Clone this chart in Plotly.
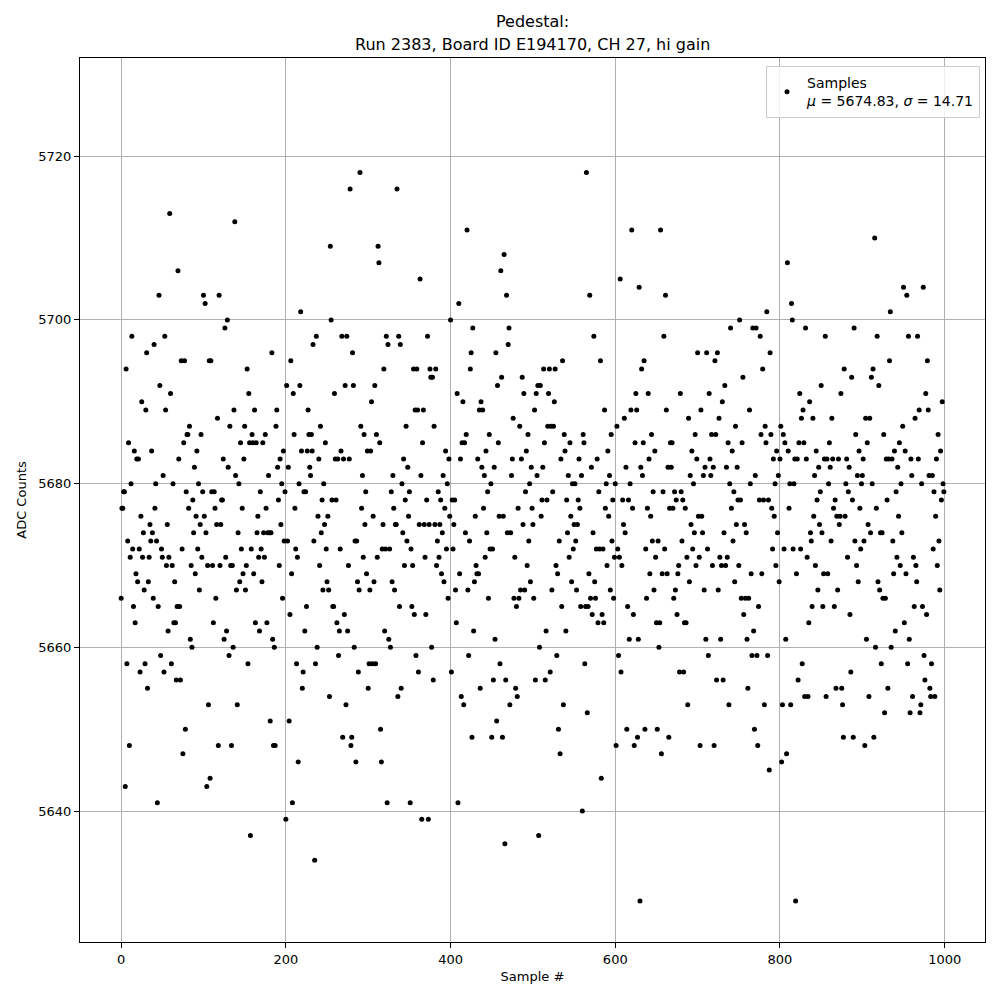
import plotly.graph_objects as go

# ADC samples (blocks of 50)
block_00 = [5666,5677,5677,5679,5679,5643,5694,5658,5673,5685,5648,5671,5680,5698,5672,5665,5684,5663,5669,5683,5668,5683,5672,5657,5676,5690,5671,5674,5667,5658,5689,5696,5655,5668,5671,5675,5673,5684,5674,5666,5697,5677,5680,5673,5641,5665,5703,5692,5659,5672]
block_01 = [5671,5681,5657,5698,5689,5670,5675,5662,5671,5713,5691,5658,5670,5680,5663,5668,5663,5656,5665,5706,5683,5665,5656,5695,5672,5647,5685,5695,5650,5679,5686,5686,5677,5687,5661,5670,5660,5678,5674,5682,5669,5676,5684,5672,5680,5667,5675,5686,5671,5679]
block_02 = [5703,5676,5702,5674,5643,5670,5653,5695,5644,5695,5679,5670,5663,5679,5677,5666,5675,5688,5648,5703,5670,5675,5678,5678,5683,5661,5699,5671,5662,5700,5682,5659,5687,5670,5648,5670,5660,5689,5712,5681,5667,5653,5674,5680,5668,5685,5672,5677,5669,5683]
block_03 = [5687,5667,5670,5694,5658,5691,5685,5637,5672,5686,5685,5669,5689,5663,5685,5674,5676,5671,5662,5679,5672,5668,5685,5674,5671,5686,5677,5663,5674,5681,5674,5651,5674,5696,5661,5648,5660,5648,5687,5689,5682,5678,5670,5683,5675,5680,5666,5684,5673,5679]
block_04 = [5639,5692,5673,5682,5651,5664,5695,5669,5641,5691,5686,5677,5672,5658,5671,5646,5680,5692,5701,5684,5655,5657,5679,5662,5679,5665,5684,5689,5686,5682,5681,5686,5684,5697,5673,5634,5658,5698,5660,5676,5683,5670,5687,5674,5678,5667,5680,5675,5685,5672]
block_05 = [5668,5676,5667,5654,5709,5700,5678,5665,5665,5691,5683,5678,5663,5683,5659,5662,5672,5684,5698,5649,5683,5664,5692,5653,5698,5662,5670,5683,5716,5648,5649,5696,5692,5660,5673,5646,5673,5668,5657,5667,5718,5687,5677,5681,5671,5686,5675,5679,5669,5684]
block_06 = [5655,5658,5667,5684,5690,5658,5676,5668,5692,5658,5686,5671,5709,5707,5685,5650,5646,5672,5675,5694,5662,5672,5698,5641,5697,5661,5672,5660,5679,5668,5681,5677,5667,5675,5675,5716,5654,5698,5665,5697,5655,5680,5674,5683,5670,5678,5687,5673,5682,5676]
block_07 = [5679,5641,5672,5665,5670,5694,5664,5689,5659,5694,5689,5657,5675,5705,5681,5639,5685,5689,5675,5671,5664,5678,5698,5639,5675,5694,5693,5660,5693,5656,5687,5675,5694,5670,5673,5679,5671,5675,5678,5669,5674,5681,5668,5677,5684,5672,5680,5666,5683,5676]
block_08 = [5700,5657,5678,5672,5675,5678,5667,5663,5691,5641,5702,5669,5683,5654,5685,5690,5653,5685,5674,5686,5711,5667,5659,5673,5694,5696,5649,5699,5662,5668,5676,5670,5669,5683,5669,5689,5655,5690,5682,5689,5677,5681,5671,5684,5674,5679,5666,5686,5672,5680]
block_09 = [5649,5672,5656,5682,5661,5696,5651,5692,5685,5676,5658,5706,5693,5649,5676,5708,5636,5656,5703,5674,5697,5699,5653,5674,5681,5683,5688,5666,5671,5655,5665,5654,5677,5666,5687,5667,5683,5693,5675,5691,5667,5679,5684,5670,5686,5673,5680,5668,5682,5677]
block_10 = [5675,5666,5689,5656,5691,5681,5692,5637,5660,5692,5676,5678,5682,5694,5685,5656,5662,5678,5687,5691,5694,5657,5687,5667,5679,5687,5690,5694,5670,5659,5669,5650,5673,5647,5683,5665,5695,5653,5686,5684,5662,5678,5674,5681,5671,5685,5676,5668,5680,5672]
block_11 = [5675,5680,5673,5667,5675,5678,5683,5677,5665,5681,5640,5686,5685,5658,5665,5718,5652,5665,5669,5703,5666,5682,5664,5674,5698,5668,5666,5672,5683,5663,5679,5672,5695,5644,5664,5672,5663,5689,5677,5680,5670,5684,5676,5681,5667,5686,5673,5678,5666,5671]
block_12 = [5680,5648,5687,5672,5659,5671,5705,5657,5670,5678,5675,5688,5674,5682,5650,5665,5678,5661,5680,5689,5711,5677,5664,5648,5685,5691,5689,5649,5661,5704,5629,5682,5694,5681,5685,5695,5650,5672,5666,5677,5691,5683,5669,5676,5686,5673,5679,5667,5684,5671]
block_13 = [5663,5650,5673,5660,5663,5711,5647,5669,5679,5698,5672,5703,5689,5669,5682,5649,5677,5685,5682,5685,5677,5666,5679,5667,5678,5664,5669,5670,5657,5691,5679,5673,5678,5657,5663,5677,5663,5671,5653,5688,5668,5681,5675,5684,5672,5680,5674,5686,5670,5683]
block_14 = [5696,5676,5671,5648,5689,5676,5674,5681,5667,5682,5661,5696,5672,5659,5691,5683,5681,5686,5670,5682,5648,5695,5686,5656,5696,5667,5688,5671,5661,5670,5690,5656,5674,5692,5670,5682,5671,5685,5653,5680,5699,5677,5684,5673,5679,5668,5687,5675,5682,5678]
block_15 = [5670,5700,5678,5666,5685,5693,5664,5675,5666,5674,5661,5655,5666,5689,5680,5669,5659,5699,5662,5650,5681,5699,5659,5648,5665,5678,5698,5686,5669,5694,5678,5653,5687,5685,5701,5659,5678,5645,5696,5686,5677,5672,5683,5676,5680,5670,5684,5674,5681,5668]
block_16 = [5683,5687,5646,5653,5686,5672,5685,5661,5647,5707,5684,5677,5680,5653,5702,5700,5672,5680,5683,5629,5669,5683,5656,5685,5691,5672,5688,5658,5689,5685,5654,5699,5683,5671,5654,5663,5690,5674,5673,5665,5688,5676,5681,5670,5684,5678,5667,5682,5675,5679]
block_17 = [5692,5674,5665,5669,5683,5698,5654,5683,5669,5680,5685,5682,5673,5688,5683,5677,5665,5678,5655,5676,5667,5683,5675,5676,5691,5655,5653,5649,5694,5676,5680,5683,5671,5679,5682,5664,5657,5693,5678,5649,5699,5673,5686,5670,5681,5668,5684,5677,5672,5680]
block_18 = [5681,5683,5673,5648,5688,5661,5685,5675,5654,5688,5674,5693,5680,5694,5649,5710,5660,5677,5698,5668,5692,5667,5674,5658,5674,5666,5686,5652,5666,5683,5678,5655,5683,5695,5701,5660,5683,5673,5669,5684,5662,5679,5671,5682,5676,5685,5670,5680,5674,5687]
block_19 = [5704,5663,5684,5669,5703,5658,5698,5661,5652,5683,5681,5654,5671,5665,5688,5670,5668,5698,5683,5689,5652,5653,5680,5665,5704,5659,5656,5691,5664,5695,5689,5681,5655,5654,5658,5681,5672,5679,5654,5676,5683,5670,5686,5673,5667,5684,5678,5690,5680,5679]

samples = (block_00 + block_01 + block_02 + block_03 + block_04 + block_05 + block_06 +
           block_07 + block_08 + block_09 + block_10 + block_11 + block_12 + block_13 +
           block_14 + block_15 + block_16 + block_17 + block_18 + block_19)
sample_idx = list(range(len(samples)))

title_line1 = "Pedestal:"
title_line2 = "Run 2383, Board ID E194170, CH 27, hi gain"
legend_text = "Samples<br><i>μ</i> = 5674.83, <i>σ</i> = 14.71"
x_ticks = [0, 200, 400, 600, 800, 1000]
y_ticks = [5640, 5660, 5680, 5700, 5720]

FONT = "DejaVu Sans"

fig = go.Figure()
fig.add_trace(go.Scatter(
    x=sample_idx, y=samples, mode="markers", name=legend_text,
    marker=dict(color="black", size=5, line=dict(width=0)),
))

axis_common = dict(
    showline=True, mirror=True, linecolor="black", linewidth=1,
    showgrid=True, gridcolor="#b0b0b0", gridwidth=0.8,
    ticks="outside", ticklen=5, tickwidth=1, tickcolor="black",
    zeroline=False, tickfont=dict(family=FONT, size=13, color="black"),
)

fig.update_layout(
    width=1000, height=1000,
    paper_bgcolor="white", plot_bgcolor="white",
    margin=dict(l=80, r=15, t=58, b=58),
    font=dict(family=FONT, color="black"),
    xaxis=dict(range=[-49.95, 1048.95], tickvals=x_ticks,
               title=dict(text="Sample #", font=dict(family=FONT, size=13), standoff=6),
               **axis_common),
    yaxis=dict(range=[5624, 5732], tickvals=y_ticks,
               title=dict(text="ADC Counts", font=dict(family=FONT, size=13), standoff=8),
               **axis_common),
    showlegend=True,
    legend=dict(x=0.9945, y=0.991, xanchor="right", yanchor="top",
                bgcolor="rgba(255,255,255,0.8)", bordercolor="#cccccc", borderwidth=1,
                font=dict(family=FONT, size=14, color="black")),
    annotations=[
        dict(text=title_line1, x=0.5, y=(942 - 22) / 884, xref="paper", yref="paper",
             xanchor="center", yanchor="middle", showarrow=False,
             font=dict(family=FONT, size=16, color="black")),
        dict(text=title_line2, x=0.5, y=(942 - 44) / 884, xref="paper", yref="paper",
             xanchor="center", yanchor="middle", showarrow=False,
             font=dict(family=FONT, size=16, color="black")),
    ],
)

fig.write_html("out.html", config={"displayModeBar": False},
               post_script="document.body.style.margin='0';document.body.style.padding='0';")
